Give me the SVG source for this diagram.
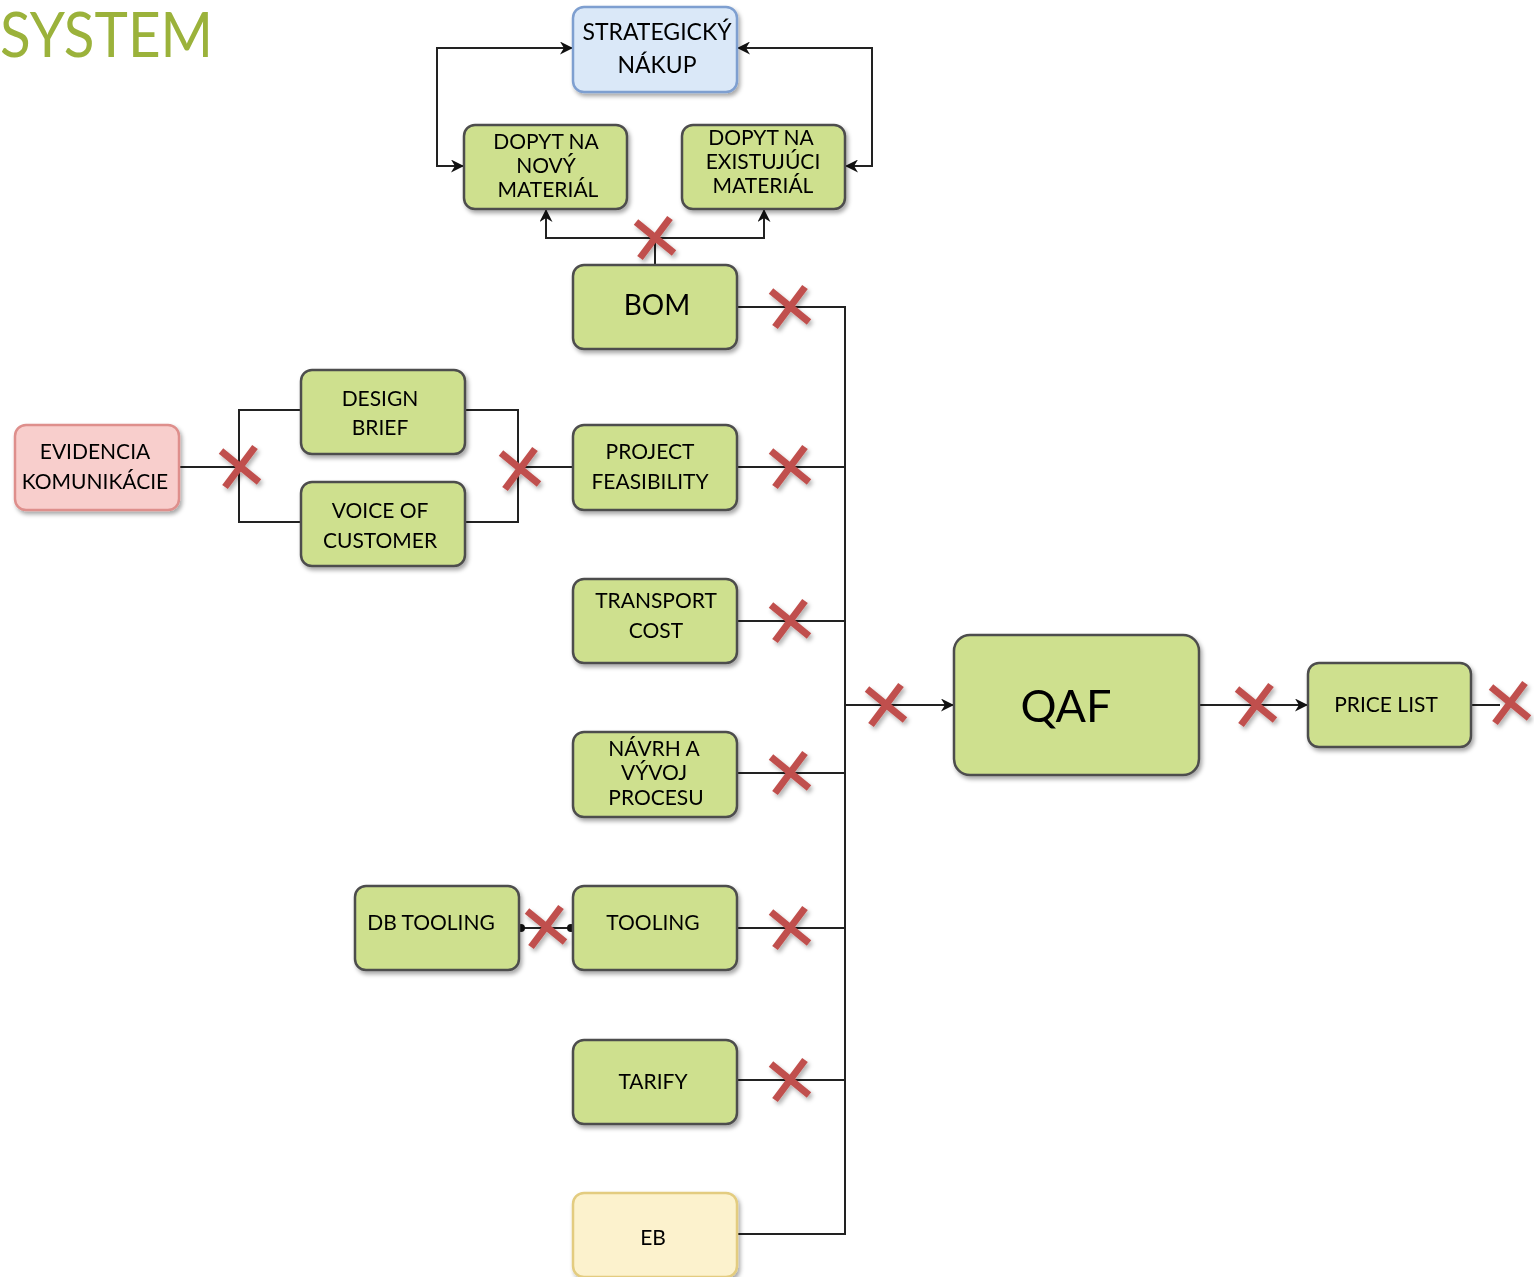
<svg xmlns="http://www.w3.org/2000/svg" width="1534" height="1277" viewBox="0 0 1534 1277">
<defs>
<style>
.node rect{stroke-width:2.5}
.g rect{fill:#CEE08E;stroke:#4D4D4D}
.b rect{fill:#DAE8F8;stroke:#7E9FD0}
.r rect{fill:#F8CECC;stroke:#DE8F8C}
.y rect{fill:#FCF2CD;stroke:#E3CC80}
.node text{font-family:Lato,"Liberation Sans",sans-serif;font-size:21px;fill:#000;text-anchor:middle}
.conn path,.conn line{fill:none;stroke:#222;stroke-width:2}
.x line{stroke:#C0504D;stroke-width:7}
.title{font-family:Lato,"Liberation Sans",sans-serif;font-size:61px;fill:#9BB23B}
</style>
<filter id="sh" x="-10%" y="-10%" width="130%" height="140%">
<feDropShadow dx="2" dy="3" stdDeviation="2" flood-color="#000" flood-opacity="0.35"/>
</filter>
<filter id="shx" x="-30%" y="-30%" width="170%" height="170%">
<feDropShadow dx="2" dy="3" stdDeviation="2" flood-color="#000" flood-opacity="0.3"/>
</filter>
<marker id="arr" viewBox="0 0 10 10" refX="10" refY="5" markerWidth="13" markerHeight="13" markerUnits="userSpaceOnUse" orient="auto-start-reverse">
<path d="M0,0 L10,5 L0,10 L3,5 z" fill="#111"/>
</marker>
<g id="xm" class="x">
<line x1="-18" y1="-16" x2="20" y2="15"/>
<line x1="16" y1="-20" x2="-14" y2="20"/>
</g>
</defs>

<text class="title" x="0" y="57" textLength="213" lengthAdjust="spacingAndGlyphs">SYSTEM</text>

<g id="connectors" class="conn">
<path d="M464,166 H437 V48 H573" marker-start="url(#arr)" marker-end="url(#arr)"/>
<path d="M845,166 H872 V48 H737" marker-start="url(#arr)" marker-end="url(#arr)"/>
<path d="M655,265 V238"/>
<path d="M546,209 V238 H764 V209" marker-start="url(#arr)" marker-end="url(#arr)"/>
<path d="M737,307 H845 V1234 H737"/>
<line x1="737" y1="467" x2="845" y2="467"/>
<line x1="737" y1="621" x2="845" y2="621"/>
<line x1="737" y1="773" x2="845" y2="773"/>
<line x1="737" y1="928" x2="845" y2="928"/>
<line x1="737" y1="1080" x2="845" y2="1080"/>
<path d="M845,705 H954" marker-end="url(#arr)"/>
<path d="M1199,705 H1308" marker-end="url(#arr)"/>
<path d="M1471,705 H1500"/>
<path d="M179,467 H239"/>
<path d="M301,410 H239 V522 H301"/>
<path d="M465,410 H518 V522 H465"/>
<path d="M518,467 H573"/>
<line x1="519" y1="928" x2="573" y2="928"/>
<circle cx="521" cy="928" r="4" fill="#111" stroke="none"/>
<circle cx="571" cy="928" r="4" fill="#111" stroke="none"/>
</g>

<g id="node-strategicky" class="node b" filter="url(#sh)">
<rect x="573" y="7" width="164" height="85" rx="11"/>
<text x="657" y="40" style="font-size:23px">STRATEGICKÝ</text>
<text x="657" y="73" style="font-size:23px">NÁKUP</text>
</g>
<g id="node-dopyt-novy" class="node g" filter="url(#sh)">
<rect x="464" y="125" width="163" height="84" rx="11"/>
<text x="546" y="149">DOPYT NA</text>
<text x="546" y="173">NOVÝ</text>
<text x="548" y="197">MATERIÁL</text>
</g>
<g id="node-dopyt-existujuci" class="node g" filter="url(#sh)">
<rect x="682" y="125" width="163" height="84" rx="11"/>
<text x="761" y="145">DOPYT NA</text>
<text x="763" y="169">EXISTUJÚCI</text>
<text x="763" y="193">MATERIÁL</text>
</g>
<g id="node-bom" class="node g" filter="url(#sh)">
<rect x="573" y="265" width="164" height="84" rx="11"/>
<text x="657" y="315" style="font-size:28px">BOM</text>
</g>
<g id="node-design-brief" class="node g" filter="url(#sh)">
<rect x="301" y="370" width="164" height="84" rx="11"/>
<text x="380" y="406">DESIGN</text>
<text x="380" y="435">BRIEF</text>
</g>
<g id="node-voice" class="node g" filter="url(#sh)">
<rect x="301" y="482" width="164" height="84" rx="11"/>
<text x="380" y="518">VOICE OF</text>
<text x="380" y="548">CUSTOMER</text>
</g>
<g id="node-evidencia" class="node r" filter="url(#sh)">
<rect x="15" y="425" width="164" height="85" rx="11"/>
<text x="95" y="459">EVIDENCIA</text>
<text x="95" y="489">KOMUNIKÁCIE</text>
</g>
<g id="node-project" class="node g" filter="url(#sh)">
<rect x="573" y="425" width="164" height="85" rx="11"/>
<text x="650" y="459">PROJECT</text>
<text x="650" y="489">FEASIBILITY</text>
</g>
<g id="node-transport" class="node g" filter="url(#sh)">
<rect x="573" y="579" width="164" height="84" rx="11"/>
<text x="656" y="608">TRANSPORT</text>
<text x="656" y="638">COST</text>
</g>
<g id="node-navrh" class="node g" filter="url(#sh)">
<rect x="573" y="732" width="164" height="85" rx="11"/>
<text x="654" y="756">NÁVRH A</text>
<text x="654" y="780">VÝVOJ</text>
<text x="656" y="805">PROCESU</text>
</g>
<g id="node-db-tooling" class="node g" filter="url(#sh)">
<rect x="355" y="886" width="164" height="84" rx="11"/>
<text x="431" y="930">DB TOOLING</text>
</g>
<g id="node-tooling" class="node g" filter="url(#sh)">
<rect x="573" y="886" width="164" height="84" rx="11"/>
<text x="653" y="930">TOOLING</text>
</g>
<g id="node-tarify" class="node g" filter="url(#sh)">
<rect x="573" y="1040" width="164" height="84" rx="11"/>
<text x="653" y="1089">TARIFY</text>
</g>
<g id="node-eb" class="node y" filter="url(#sh)">
<rect x="573" y="1193" width="164" height="84" rx="11"/>
<text x="653" y="1245">EB</text>
</g>
<g id="node-qaf" class="node g" filter="url(#sh)">
<rect x="954" y="635" width="245" height="140" rx="16"/>
<text x="1066" y="722" style="font-size:45px">QAF</text>
</g>
<g id="node-price-list" class="node g" filter="url(#sh)">
<rect x="1308" y="663" width="163" height="84" rx="11"/>
<text x="1386" y="712">PRICE LIST</text>
</g>

<g id="x-marks" filter="url(#shx)">
<use href="#xm" x="654" y="238"/>
<use href="#xm" x="789" y="307"/>
<use href="#xm" x="789" y="467"/>
<use href="#xm" x="789" y="621"/>
<use href="#xm" x="789" y="773"/>
<use href="#xm" x="789" y="928"/>
<use href="#xm" x="789" y="1080"/>
<use href="#xm" x="885" y="705"/>
<use href="#xm" x="1255" y="705"/>
<use href="#xm" x="1509" y="703"/>
<use href="#xm" x="239" y="467"/>
<use href="#xm" x="519" y="469"/>
<use href="#xm" x="545" y="927"/>
</g>
</svg>
